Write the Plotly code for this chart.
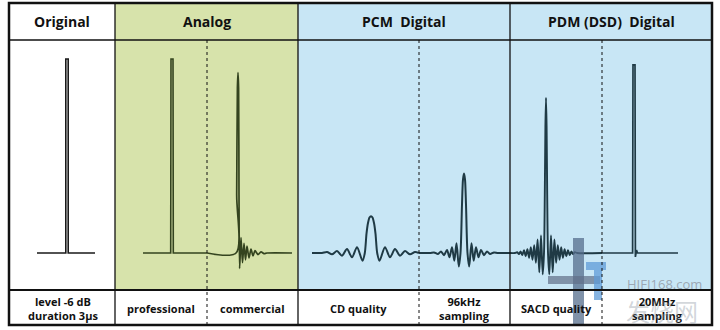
import plotly.graph_objects as go

W, H = 720, 330

# ---------------- data ----------------
headers = ["Original", "Analog", "PCM  Digital", "PDM (DSD)  Digital"]
labels = ["level -6 dB<br>duration 3µs", "professional", "commercial",
          "CD quality", "96kHz<br>sampling", "SACD quality", "20MHz<br>sampling"]

# impulse responses: time offset (µs, relative to impulse) and relative level
orig_t = [-30, -1.2, -1.2, 1.2, 1.2, 28]
orig_v = [0, 0, 1.0, 1.0, 0, 0]

pro_t = [-29, -1.3, -1.0, 1.0, 1.3, 35]
pro_v = [0, 0, 1.0, 1.0, 0, 0]

com_t = [-31, -2.0, -1.3, -0.6, 0, 0.6, 1.0, 1.6, 3.0, 4.5, 6.0, 7.5, 9.0,
         11, 13, 15, 17, 20, 23, 26, 29, 54]
com_v = [0, 0, 0.3, 0.85, 0.93, 0.85, 0.3, -0.08, 0.08, -0.05, 0.05, -0.035,
         0.035, -0.025, 0.02, -0.015, 0.012, -0.008, 0.006, -0.003, 0, 0]

cd_t = [-59, -49, -44, -39, -34, -29, -24, -19, -14, -8.5, -6.2, -4.5, -3.0,
        -1.5, 0, 1.5, 3.0, 4.5, 6.2, 8.5, 14, 19, 24, 29, 34, 39, 44, 48]
cd_v = [0, 0, 0.005, -0.007, 0.01, -0.014, 0.02, -0.022, 0.03, -0.04, 0,
        0.1, 0.155, 0.183, 0.19, 0.183, 0.155, 0.1, 0, -0.04, 0.03, -0.022,
        0.02, -0.014, 0.01, -0.007, 0.005, 0]

k96_t = [-45, -34, -30, -26, -23, -20, -17, -14.5, -12, -9.7, -7.5, -5.2,
         -3.5, -2.0, -1.0, 0, 1.0, 2.0, 3.5, 5.2, 7.5, 9.7, 12, 14.5, 17,
         20, 23, 26, 30, 34, 46]
k96_v = [0, 0, 0.003, -0.005, 0.008, -0.011, 0.016, -0.022, 0.03, -0.04,
         0.05, -0.07, 0, 0.25, 0.38, 0.41, 0.38, 0.25, 0, -0.07, 0.05, -0.04,
         0.03, -0.022, 0.016, -0.011, 0.008, -0.005, 0.003, 0, 0]

sacd_t = [-36, -31, -28.8, -27.1, -25.4, -23.7, -22.0, -20.3, -18.6, -16.9,
          -15.2, -13.5, -11.8, -10.1, -8.4, -6.7, -5.0, -3.3, -2.0, -1.2,
          -0.6, 0, 0.6, 1.2, 2.0, 3.3, 5.0, 6.7, 8.4, 10.1, 11.8, 13.5, 15.2,
          16.9, 18.6, 20.3, 22.0, 23.7, 25.4, 27.1, 28.8, 31, 56]
sacd_v = [0, 0, 0.004, -0.006, 0.008, -0.011, 0.014, -0.017, 0.02, -0.025,
          0.03, -0.035, 0.04, -0.05, 0.07, -0.1, 0.09, -0.11, 0, 0.3, 0.65,
          0.8, 0.65, 0.3, 0, -0.11, 0.09, -0.1, 0.07, -0.05, 0.04, -0.035,
          0.03, -0.025, 0.02, -0.017, 0.014, -0.011, 0.008, -0.006, 0.004,
          0, 0]

mhz_t = [-32, -1.4, -1.0, 1.0, 1.4, 2.5, 3.5, 44]
mhz_v = [0, 0, 0.97, 0.97, -0.02, 0.015, 0, 0]

# ---------------- layout constants (pixels) ----------------
X0, X1 = 9, 712          # outer frame
Y0, YH, YL, Y1 = 3, 40, 290, 325
COLS = [9, 115, 298, 510, 712]
DOTS = [207, 419, 602]
BASE_PY, TOP_PY = 253, 59

GREEN = "#d7e3ab"
BLUE = "#c8e6f5"
INK = "#111111"

# (axis, left px, right px, impulse px, t, v, colour, shape, width)
panels = [
    ("x", 10, 115, 67, orig_t, orig_v, "#1a1a1a", "linear", 1.6),
    ("x2", 115, 207, 172, pro_t, pro_v, "#34441f", "linear", 1.6),
    ("x3", 207, 298, 238, com_t, com_v, "#34441f", "spline", 1.7),
    ("x4", 298, 419, 371, cd_t, cd_v, "#1f3a45", "spline", 2.0),
    ("x5", 419, 510, 464, k96_t, k96_v, "#1f3a45", "spline", 2.0),
    ("x6", 510, 602, 546, sacd_t, sacd_v, "#1f3a45", "spline", 1.9),
    ("x7", 602, 712, 634, mhz_t, mhz_v, "#1f3a45", "linear", 1.7),
]

fig = go.Figure()

unit = BASE_PY - TOP_PY
y_hi = BASE_PY / unit
y_lo = y_hi - H / unit

layout_axes = {}
for ax, l, r, c, t, v, col, shp, lw in panels:
    fig.add_trace(go.Scatter(
        x=t, y=v, xaxis=ax, yaxis="y", mode="lines",
        line=dict(color=col, width=lw, shape=shp, smoothing=0.8),
        hoverinfo="skip", showlegend=False))
    name = "xaxis" if ax == "x" else "xaxis" + ax[1:]
    layout_axes[name] = dict(domain=[l / W, r / W], range=[l - c, r - c],
                             visible=False, anchor="y", fixedrange=True)


def px(x):
    return x / W


def py(y):
    return 1 - y / H


shapes = []
# coloured column backgrounds
shapes.append(dict(type="rect", xref="paper", yref="paper", layer="below",
                   x0=px(115), x1=px(298), y0=py(Y0), y1=py(YL),
                   fillcolor=GREEN, line=dict(width=0)))
shapes.append(dict(type="rect", xref="paper", yref="paper", layer="below",
                   x0=px(298), x1=px(X1), y0=py(Y0), y1=py(YL),
                   fillcolor=BLUE, line=dict(width=0)))

# watermark logo blocks
for (a, b, c2, d, fc) in [
    (573, 238, 584, 326, "rgba(85,110,140,0.75)"),
    (548, 276, 600, 284, "rgba(95,110,135,0.7)"),
    (586, 262, 606, 270, "rgba(95,155,215,0.75)"),
    (594, 270, 602, 300, "rgba(95,155,215,0.75)"),
]:
    shapes.append(dict(type="rect", xref="paper", yref="paper", layer="above",
                       x0=px(a), x1=px(c2), y0=py(b), y1=py(d),
                       fillcolor=fc, line=dict(width=0)))

# grid lines
shapes.append(dict(type="line", xref="paper", yref="paper",
                   x0=px(X0), x1=px(X1), y0=py(YH), y1=py(YH),
                   line=dict(color=INK, width=1.4)))
shapes.append(dict(type="line", xref="paper", yref="paper",
                   x0=px(X0), x1=px(X1), y0=py(YL), y1=py(YL),
                   line=dict(color=INK, width=2)))
for xc in COLS[1:-1]:
    shapes.append(dict(type="line", xref="paper", yref="paper",
                       x0=px(xc), x1=px(xc), y0=py(Y0), y1=py(Y1),
                       line=dict(color=INK, width=1.3)))
for xc in DOTS:
    shapes.append(dict(type="line", xref="paper", yref="paper",
                       x0=px(xc), x1=px(xc), y0=py(YH), y1=py(Y1),
                       line=dict(color=INK, width=1, dash="dot")))
shapes.append(dict(type="rect", xref="paper", yref="paper",
                   x0=px(X0), x1=px(X1), y0=py(Y0), y1=py(Y1),
                   line=dict(color=INK, width=2.5)))

annotations = []
FONT = "Open Sans, Noto Sans, DejaVu Sans"
for i, h in enumerate(headers):
    cx = (COLS[i] + COLS[i + 1]) / 2
    annotations.append(dict(x=px(cx), y=py(22), xref="paper", yref="paper",
                            text="<b>%s</b>" % h, showarrow=False,
                            xanchor="center", yanchor="middle",
                            font=dict(family=FONT, size=14, color=INK)))

bounds = [10, 115, 207, 298, 419, 510, 602, 712]
for i, lab in enumerate(labels):
    cx = (bounds[i] + bounds[i + 1]) / 2
    annotations.append(dict(x=px(cx), y=py(308), xref="paper", yref="paper",
                            text="<b>%s</b>" % lab, showarrow=False,
                            xanchor="center", yanchor="middle",
                            font=dict(family=FONT, size=11, color=INK)))

# watermark text
annotations.append(dict(x=px(664), y=py(284), xref="paper", yref="paper",
                        text="HIFI168.com", showarrow=False,
                        xanchor="center", yanchor="middle",
                        font=dict(family=FONT, size=13,
                                  color="rgba(150,160,172,0.9)")))
annotations.append(dict(x=px(662), y=py(310), xref="paper", yref="paper",
                        text="发烧网", showarrow=False,
                        xanchor="center", yanchor="middle",
                        font=dict(family="Noto Sans CJK SC", size=24,
                                  color="rgba(140,150,160,0.4)")))

fig.update_layout(
    width=W, height=H, margin=dict(l=0, r=0, t=0, b=0),
    paper_bgcolor="white", plot_bgcolor="rgba(0,0,0,0)",
    yaxis=dict(domain=[0, 1], range=[y_lo, y_hi], visible=False,
               fixedrange=True),
    shapes=shapes, annotations=annotations, showlegend=False,
    **layout_axes)

fig.write_html("out.html", config=dict(displayModeBar=False))
